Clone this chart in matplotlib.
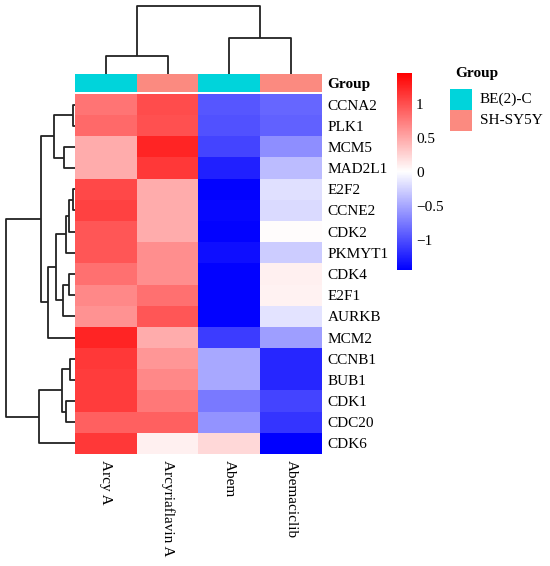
import numpy as np
import matplotlib
matplotlib.use('Agg')
import matplotlib.pyplot as plt
from matplotlib.colors import LinearSegmentedColormap, ListedColormap
from matplotlib.patches import Rectangle

plt.rcParams['font.family'] = ['Liberation Serif', 'DejaVu Serif']

# Dados (z-score por linha)
genes = ['CCNA2', 'PLK1', 'MCM5', 'MAD2L1', 'E2F2', 'CCNE2', 'CDK2', 'PKMYT1',
         'CDK4', 'E2F1', 'AURKB', 'MCM2', 'CCNB1', 'BUB1', 'CDK1', 'CDC20', 'CDK6']
samples = ['Arcy A', 'Arcyriaflavin A', 'Abem', 'Abemaciclib']
groups = ['BE(2)-C', 'SH-SY5Y', 'BE(2)-C', 'SH-SY5Y']
group_names = ['BE(2)-C', 'SH-SY5Y']
group_colors = ['#00D4DB', '#FB8A80']

arcy_a = [0.80, 0.85, 0.48, 0.48, 1.05, 1.08, 0.97, 0.97, 0.82, 0.68, 0.63, 1.25, 1.14, 1.12, 1.12, 0.91, 1.14]
arcyriaflavin_a = [1.02, 1.00, 1.25, 1.14, 0.48, 0.48, 0.48, 0.65, 0.65, 0.82, 0.97, 0.48, 0.60, 0.68, 0.77, 0.91, 0.09]
abem = [-0.95, -0.97, -1.05, -1.25, -1.42, -1.40, -1.42, -1.36, -1.42, -1.42, -1.42, -1.10, -0.48, -0.48, -0.74, -0.60, 0.23]
abemaciclib = [-0.86, -0.88, -0.63, -0.37, -0.17, -0.20, 0.03, -0.28, 0.09, 0.08, -0.14, -0.54, -1.22, -1.22, -1.05, -1.14, -1.45]

# Dendrogramas: (filho a, filho b, altura), folhas na ordem exibida
row_merges = [(0, 1, 2.3), (4, 5, 2.3), (12, 13, 5.0), (18, 6, 6.0), (8, 9, 6.0),
              (20, 7, 9.3), (14, 15, 9.3), (2, 3, 10.7), (21, 10, 12.3), (19, 23, 13.3),
              (22, 25, 19.3), (17, 24, 20.7), (27, 11, 27.3), (28, 29, 34.0),
              (26, 16, 35.7), (30, 31, 69.0)]
col_merges = [(0, 1, 18.0), (2, 3, 36.0), (4, 5, 68.0)]

data = np.column_stack([arcy_a, arcyriaflavin_a, abem, abemaciclib])
n_rows, n_cols = data.shape

W, H = 550, 566
FS = 11
fig = plt.figure(figsize=(W / 100, H / 100), dpi=100)


def px_axes(x0, y0, x1, y1):
    return fig.add_axes([x0 / W, 1 - y1 / H, (x1 - x0) / W, (y1 - y0) / H])


def draw_dendro(ax, merges, n, orient):
    pos = {i: i + 0.5 for i in range(n)}
    hgt = {i: 0.0 for i in range(n)}
    for k, (a, b, h) in enumerate(merges):
        xs = [hgt[a], h, h, hgt[b]]
        ys = [pos[a], pos[a], pos[b], pos[b]]
        if orient == 'left':
            ax.plot(xs, ys, color='#222222', lw=1.3, solid_capstyle='butt')
        else:
            ax.plot(ys, xs, color='#222222', lw=1.3, solid_capstyle='butt')
        pos[n + k] = (pos[a] + pos[b]) / 2
        hgt[n + k] = h
    ax.axis('off')


cmap = LinearSegmentedColormap.from_list('bwr_ph', ['blue', 'white', 'red'], N=256)
vmin, vmax = -1.44, 1.46

# Heatmap
ax_hm = px_axes(75, 94, 322, 454)
ax_hm.imshow(data, cmap=cmap, vmin=vmin, vmax=vmax, aspect='auto',
             interpolation='nearest', extent=(0, n_cols, n_rows, 0))
ax_hm.set_xlim(0, n_cols)
ax_hm.set_ylim(n_rows, 0)
ax_hm.set_yticks(np.arange(n_rows) + 0.5)
ax_hm.set_yticklabels(genes, fontsize=FS)
ax_hm.yaxis.tick_right()
ax_hm.set_xticks(np.arange(n_cols) + 0.5)
ax_hm.set_xticklabels(samples, fontsize=FS, rotation=270, va='top', ha='center')
ax_hm.tick_params(length=0, pad=4)
for s in ax_hm.spines.values():
    s.set_visible(False)

# Barra de grupo
ax_grp = px_axes(75, 74, 322, 92)
grp_idx = [group_names.index(g) for g in groups]
ax_grp.imshow([grp_idx], cmap=ListedColormap(group_colors), vmin=0, vmax=1,
              aspect='auto', interpolation='nearest', extent=(0, n_cols, 1, 0))
ax_grp.set_xlim(0, n_cols)
ax_grp.set_xticks([])
ax_grp.set_yticks([0.5])
ax_grp.set_yticklabels(['Group'], fontsize=FS, fontweight='bold')
ax_grp.yaxis.tick_right()
ax_grp.tick_params(length=0, pad=4)
for s in ax_grp.spines.values():
    s.set_visible(False)

# Dendrograma superior
ax_top = px_axes(75, 5, 322, 74)
draw_dendro(ax_top, col_merges, n_cols, 'top')
ax_top.set_xlim(0, n_cols)
ax_top.set_ylim(0, 69)

# Dendrograma lateral
ax_left = px_axes(5, 94, 75, 454)
draw_dendro(ax_left, row_merges, n_rows, 'left')
ax_left.set_xlim(70, 0)
ax_left.set_ylim(n_rows, 0)

# Barra de cores
cax = px_axes(397, 73, 412, 270)
sm = plt.cm.ScalarMappable(cmap=cmap, norm=plt.Normalize(vmin, vmax))
cb = fig.colorbar(sm, cax=cax, ticks=[-1, -0.5, 0, 0.5, 1])
cb.ax.set_yticklabels(['\u22121', '\u22120.5', '0', '0.5', '1'], fontsize=FS)
cb.outline.set_visible(False)
cb.ax.tick_params(length=0, pad=3)

# Legenda do grupo
fig.text(455 / W, 1 - 74 / H, 'Group', fontsize=FS, fontweight='bold', va='center', ha='left')
for i, (name, col) in enumerate(zip(group_names, group_colors)):
    y0 = 89 + i * 21
    fig.patches.append(Rectangle((450 / W, 1 - (y0 + 21) / H), 22 / W, 21 / H,
                                 transform=fig.transFigure, facecolor=col, edgecolor='none'))
    fig.text(480 / W, 1 - (y0 + 10.5) / H, name, fontsize=FS, va='center', ha='left')

fig.savefig('out.png', dpi=100)
